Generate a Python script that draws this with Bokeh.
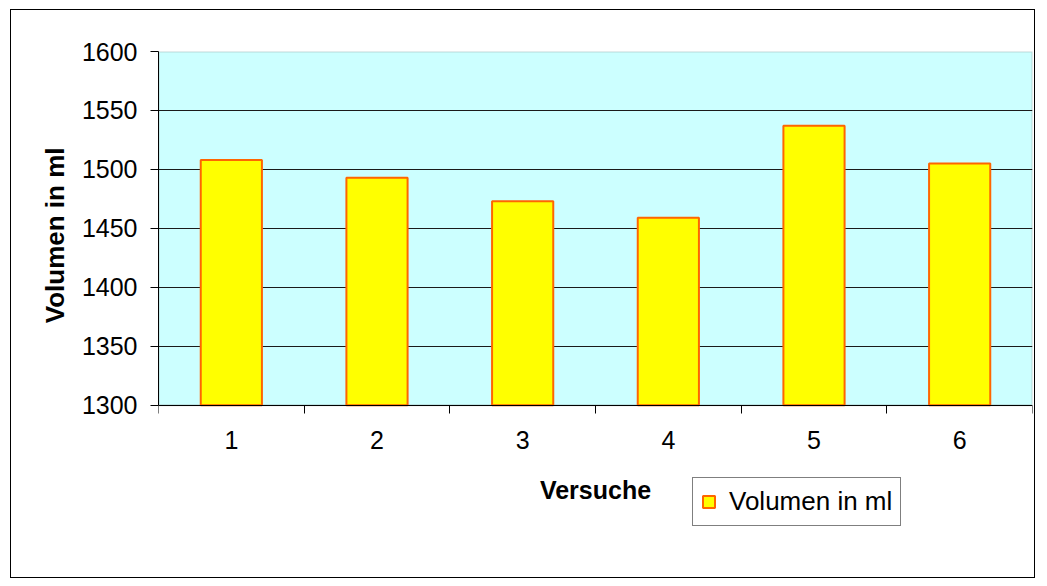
from bokeh.plotting import figure
from bokeh.models import ColumnDataSource, FixedTicker, Legend, LegendItem, Range1d, BoxAnnotation, Title
from bokeh.embed import file_html
from bokeh.resources import INLINE

versuche = [1, 2, 3, 4, 5, 6]
volumen = [1508, 1493, 1473, 1459, 1537, 1505]
y_ticks = [1300, 1350, 1400, 1450, 1500, 1550, 1600]
series_name = "Volumen in ml"
x_title = "Versuche"
y_title = "Volumen in ml"

FONT = "Liberation Sans"
Y_MIN, Y_MAX = 1300, 1600

p = figure(width=1025, height=569, output_backend="svg", toolbar_location=None,
           x_range=Range1d(0.5, 6.5), y_range=Range1d(1160, Y_MAX),
           min_border_left=147, min_border_top=41, min_border_right=4, min_border_bottom=9)
p.styles = {"border": "1px solid black", "margin-left": "10px", "margin-top": "9px"}

p.background_fill_color = "white"
p.border_fill_color = "white"
p.outline_line_color = None

plot_area = BoxAnnotation(bottom=Y_MIN, top=Y_MAX, fill_color="#CCFFFF", fill_alpha=1,
                          line_color="#808080", line_width=2, level="image")
p.add_layout(plot_area)

src = ColumnDataSource(dict(x=versuche, top=volumen))
r = p.vbar(x="x", top="top", bottom=Y_MIN, width=0.42, source=src,
           fill_color="#FFFF00", line_color="#FF6600", line_width=2)

# axes
p.xaxis.fixed_location = Y_MIN
p.xaxis.ticker = FixedTicker(ticks=versuche, minor_ticks=[0.5 + i for i in range(7)])
p.xaxis.major_tick_line_color = None
p.xaxis.minor_tick_out = 8
p.xaxis.minor_tick_in = 0
p.xaxis.minor_tick_line_color = "black"
p.xaxis.axis_line_color = "black"
p.xaxis.major_label_standoff = 18
p.xaxis.axis_label = x_title
p.xaxis.axis_label_standoff = 23

p.yaxis.bounds = (Y_MIN, Y_MAX)
p.yaxis.ticker = FixedTicker(ticks=y_ticks, minor_ticks=[])
p.yaxis.major_tick_out = 8
p.yaxis.major_tick_in = 0
p.yaxis.major_tick_line_color = "black"
p.yaxis.axis_line_color = "black"
p.yaxis.major_label_standoff = 13

for ax in (p.xaxis[0], p.yaxis[0]):
    ax.major_label_text_font = FONT
    ax.major_label_text_font_size = "25px"
    ax.major_label_text_color = "black"
    ax.axis_label_text_font = FONT
    ax.axis_label_text_font_size = "25px"
    ax.axis_label_text_font_style = "bold"
    ax.axis_label_text_color = "black"

# y axis title, centred on the plot area (not the whole frame)
ytitle = Title(text=y_title, align="right", offset=96, standoff=18,
               text_font=FONT, text_font_size="26px", text_font_style="bold",
               text_color="black")
p.add_layout(ytitle, "left")

p.xgrid.grid_line_color = None
p.ygrid.grid_line_color = "#1a1a1a"
p.ygrid.grid_line_width = 1
p.ygrid.ticker = FixedTicker(ticks=y_ticks[1:-1])

legend = Legend(items=[LegendItem(label=series_name, renderers=[r])],
                location=(534, 44), orientation="vertical",
                label_text_font=FONT, label_text_font_size="26px", label_text_color="black",
                glyph_width=15, glyph_height=15, label_standoff=13,
                padding=8, margin=0, spacing=0,
                border_line_color="black", border_line_width=1,
                background_fill_color="white", background_fill_alpha=1)
p.add_layout(legend, "center")

open("out.html", "w").write(file_html(p, INLINE))
